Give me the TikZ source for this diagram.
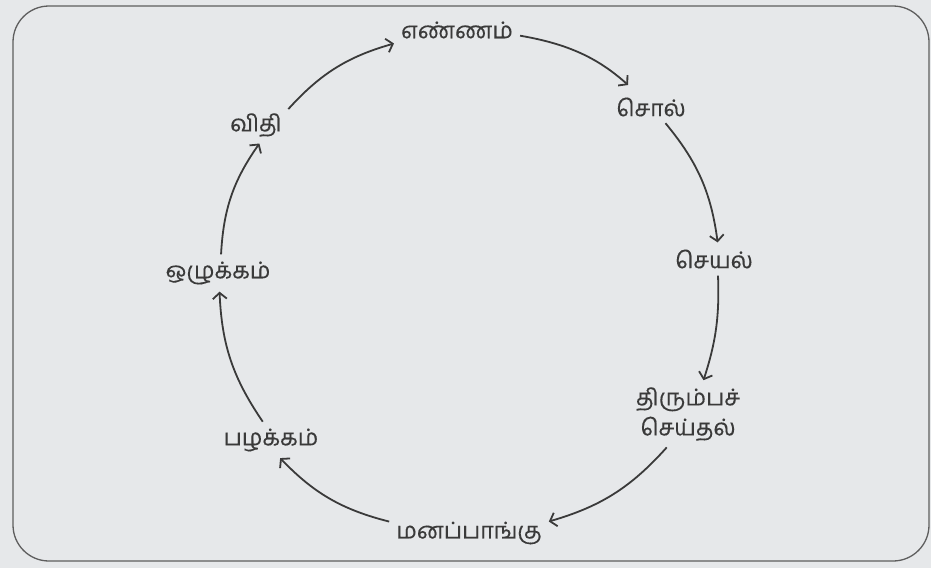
\documentclass[tikz,border=0pt]{standalone}
\usepackage{fontspec}
\newfontfamily\tamilfont[Script=Tamil, FakeBold=0.3]{Hind Madurai}
\usepackage{tikz}
\usetikzlibrary{arrows.meta,positioning}
\definecolor{Paper}{HTML}{E6E8EA}
\definecolor{Ink}{HTML}{3A3A3A}
\definecolor{Frame}{HTML}{5E5E5E}
\tikzset{
    stage/.style={
        text=Ink, font=\tamilfont\fontsize{23}{30}\selectfont,
        align=center, inner sep=5pt
    },
    cyclearrow/.style={
        -{Straight Barb[length=6pt, width=14pt]}, line width=1.8pt, draw=Ink,
        shorten <=2pt, shorten >=2pt
    },
}

\begin{document}
\begin{tikzpicture}[x=1pt, y=1pt]
    % Paper and frame
    \fill[Paper] (0,0) rectangle (931,-568);
    \draw[Frame, line width=1.3pt, rounded corners=36pt] (13,-6) rectangle (929,-561);

    % Nodes
    \node[stage] (thought) at (457,-30) {எண்ணம்};
    \node[stage] (word) at (651,-107) {சொல்};
    \node[stage] (deed) at (714,-259) {செயல்};
    \node[stage] (repeat) at (688,-414) {திரும்பச்\\செய்தல்};
    \node[stage] (attitude) at (469,-533) {மனப்பாங்கு};
    \node[stage] (habit) at (271,-440) {பழக்கம்};
    \node[stage] (conduct) at (218,-273) {ஒழுக்கம்};
    \node[stage] (fate) at (256,-125) {விதி};

    % Arrows
    \draw[cyclearrow, shorten >=11pt] (thought.-5) to[bend left=16] (word.135);
    \draw[cyclearrow] (word.-48) to[bend left=16] (deed.75);
    \draw[cyclearrow] (deed.-75) to[bend left=10] (repeat.65);
    \draw[cyclearrow] (repeat.-122) to[bend left=16] (attitude.8);
    \draw[cyclearrow] (attitude.172) to[bend left=16] (habit.-65);
    \draw[cyclearrow] (habit.113) to[bend left=16] (conduct.-85);
    \draw[cyclearrow] (conduct.80) to[bend left=16] (fate.-75);
    \draw[cyclearrow] (fate.25) to[bend left=16] (thought.192);
\end{tikzpicture}
\end{document}
